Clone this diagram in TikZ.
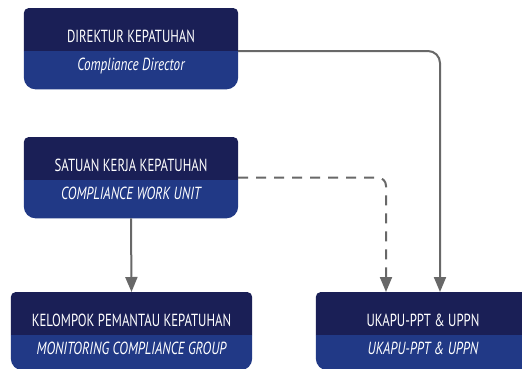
\documentclass[tikz,border=0pt]{standalone}
\usepackage{fontspec}
\usetikzlibrary{calc,arrows.meta}
\newfontfamily\boxfont[FakeStretch=0.73]{PT Sans}
\newfontfamily\boxitfont[FakeStretch=0.75]{PT Sans Italic}
\definecolor{topc}{RGB}{26,31,86}
\definecolor{botc}{RGB}{33,57,134}
\definecolor{linec}{RGB}{104,104,104}
\tikzset{
  conn/.style={draw=linec, line width=2pt},
  tip/.style={-{Triangle[width=12pt,length=15pt]}},
  dashline/.style={dash pattern=on 10pt off 8pt},
  uptext/.style={anchor=base, text=white, inner sep=0pt, font=\boxfont\fontsize{17.5}{19}\selectfont},
  lowtext/.style={anchor=base, text=white, inner sep=0pt, font=\boxitfont\fontsize{17.5}{19}\selectfont},
}
\newcommand\OrgBox[7]{%
  \node[minimum width=#4pt, minimum height=#5pt, inner sep=0pt, anchor=north] (#1) at (#2,#3) {};
  \fill[topc] ($(#1.north west)+(0,43)$) [rounded corners=5pt] -- (#1.north west) -- (#1.north east) [sharp corners] -- ($(#1.north east)+(0,43)$) -- cycle;
  \fill[botc] ($(#1.north west)+(0,43)$) [rounded corners=12pt] -- (#1.south west) -- (#1.south east) [sharp corners] -- ($(#1.north east)+(0,43)$) -- cycle;
  \node[uptext] (#1t) at ($(#1.north)+(0,34)$) {#6};
  \node[lowtext] (#1b) at ($(#1.north)+(0,62)$) {#7};
}
\begin{document}
\begin{tikzpicture}[x=1pt,y=-1pt]
\useasboundingbox (0,0) rectangle (522,368);
\clip (0,0) rectangle (522,368);
\fill[white] (0,0) rectangle (522,368);
\OrgBox{d}{131}{8}{214}{81}{DIREKTUR KEPATUHAN}{Compliance Director}
\OrgBox{s}{131}{137}{214}{81}{SATUAN KERJA KEPATUHAN}{COMPLIANCE WORK UNIT}
\OrgBox{k}{131.5}{292}{241}{78}{KELOMPOK PEMANTAU KEPATUHAN}{MONITORING COMPLIANCE GROUP}
\OrgBox{u}{423}{292}{214}{78}{UKAPU-PPT \& UPPN}{UKAPU-PPT \& UPPN}
\draw[conn, tip, rounded corners=12pt] ($(d.north east)+(0,43)$) -| ($(u.north)+(17,0)$);
\draw[conn, tip, dashline, rounded corners=8pt] (s.east) -| ($(u.north)+(-37,0)$);
\draw[conn, tip] (s.south) -- (k.north);
\end{tikzpicture}
\end{document}
